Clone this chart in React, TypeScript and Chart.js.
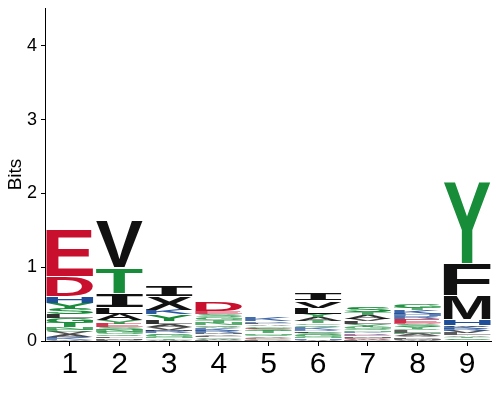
import { useEffect, useRef } from "react";
import { Chart, registerables } from "chart.js";

Chart.register(...registerables);

// Positions along the sequence (x categories)
const positions = ["1", "2", "3", "4", "5", "6", "7", "8", "9"];
// Y axis tick values (bits)
const yTickValues = [0, 1, 2, 3, 4];
const yMax = 4.515;

// Letters per position, listed bottom -> top, with their heights in bits
const pos1Letters = ["W", "K", "R", "A", "V", "C", "N", "T", "G", "L", "S", "Y", "H", "D", "E"];
const pos1Bits = [0.015, 0.025, 0.015, 0.035, 0.03, 0.03, 0.035, 0.06, 0.065, 0.05, 0.08, 0.08, 0.09, 0.27, 0.63];

const pos2Letters = ["P", "M", "F", "Q", "G", "N", "S", "E", "Y", "A", "L", "I", "T", "V"];
const pos2Bits = [0.02, 0.02, 0.02, 0.03, 0.035, 0.03, 0.035, 0.045, 0.045, 0.08, 0.1, 0.19, 0.35, 0.63];

const pos3Letters = ["W", "T", "N", "G", "S", "R", "M", "V", "A", "L", "Y", "K", "X", "I"];
const pos3Bits = [0.015, 0.02, 0.02, 0.03, 0.02, 0.03, 0.02, 0.03, 0.04, 0.05, 0.09, 0.06, 0.185, 0.16];

const pos4Letters = ["P", "W", "C", "L", "V", "M", "R", "K", "A", "Q", "N", "T", "G", "S", "E", "D"];
const pos4Bits = [0.015, 0.015, 0.02, 0.02, 0.02, 0.02, 0.03, 0.03, 0.02, 0.03, 0.03, 0.03, 0.04, 0.04, 0.04, 0.13];

const pos5Letters = ["P", "C", "D", "V", "Q", "N", "T", "S", "E", "G", "A", "L", "R", "K"];
const pos5Bits = [0.015, 0.015, 0.015, 0.02, 0.02, 0.02, 0.03, 0.03, 0.015, 0.025, 0.02, 0.02, 0.02, 0.045];

const pos6Letters = ["W", "H", "N", "G", "S", "F", "R", "K", "Q", "C", "T", "A", "Y", "L", "V", "I"];
const pos6Bits = [0.015, 0.02, 0.02, 0.03, 0.03, 0.02, 0.02, 0.03, 0.03, 0.025, 0.03, 0.05, 0.05, 0.08, 0.1, 0.1];

const pos7Letters = ["P", "W", "D", "M", "E", "R", "K", "N", "Q", "G", "Y", "L", "V", "A", "T", "S"];
const pos7Bits = [0.015, 0.015, 0.015, 0.02, 0.02, 0.02, 0.02, 0.02, 0.02, 0.03, 0.035, 0.04, 0.03, 0.05, 0.04, 0.07];

const pos8Letters = ["W", "M", "P", "V", "A", "N", "L", "Q", "Y", "S", "D", "E", "R", "H", "K", "T", "G"];
const pos8Bits = [0.015, 0.015, 0.02, 0.02, 0.025, 0.02, 0.025, 0.02, 0.03, 0.04, 0.02, 0.05, 0.04, 0.03, 0.05, 0.03, 0.06];

const pos9Letters = ["S", "G", "T", "A", "L", "V", "R", "K", "W", "H", "M", "F", "Y"];
const pos9Bits = [0.02, 0.02, 0.02, 0.02, 0.025, 0.03, 0.025, 0.035, 0.02, 0.085, 0.33, 0.43, 1.11];

// Residue colour groups
const acidic = "DE";
const basic = "HKR";
const polar = "STYGCNQ";
const RED = "#c8102e";
const BLUE = "#1f4e99";
const GREEN = "#178c39";
const BLACK = "#111111";

function colorOf(letter: string): string {
  if (acidic.includes(letter)) return RED;
  if (basic.includes(letter)) return BLUE;
  if (polar.includes(letter)) return GREEN;
  return BLACK;
}

const FONT_FAMILY = "'Liberation Sans', Arial, Helvetica, sans-serif";
const SERIF_I_FONT = "'DejaVu Sans Mono', 'Liberation Mono', monospace";

export default function App() {
  const ref = useRef<HTMLCanvasElement>(null);

  useEffect(() => {
    const cols = [
      { letters: pos1Letters, bits: pos1Bits },
      { letters: pos2Letters, bits: pos2Bits },
      { letters: pos3Letters, bits: pos3Bits },
      { letters: pos4Letters, bits: pos4Bits },
      { letters: pos5Letters, bits: pos5Bits },
      { letters: pos6Letters, bits: pos6Bits },
      { letters: pos7Letters, bits: pos7Bits },
      { letters: pos8Letters, bits: pos8Bits },
      { letters: pos9Letters, bits: pos9Bits },
    ];
    const maxLayers = Math.max(...cols.map((c) => c.letters.length));
    const datasets = Array.from({ length: maxLayers }, (_, k) => ({
      label: "layer " + k,
      data: cols.map((c) => (c.bits[k] ?? 0)),
      backgroundColor: "rgba(0,0,0,0)",
      borderWidth: 0,
      barPercentage: 0.94,
      categoryPercentage: 1,
    }));

    const logoPlugin = {
      id: "logoLetters",
      afterDatasetsDraw(chart: any) {
        const ctx: CanvasRenderingContext2D = chart.ctx;
        ctx.save();
        ctx.textAlign = "left";
        ctx.textBaseline = "alphabetic";
        for (let k = 0; k < maxLayers; k++) {
          const meta = chart.getDatasetMeta(k);
          meta.data.forEach((bar: any, i: number) => {
            const letter = cols[i].letters[k];
            if (!letter) return;
            const { x, y, base, width } = bar.getProps(["x", "y", "base", "width"], true);
            let top = Math.min(y, base);
            let h = Math.abs(base - y);
            if (h <= 0) return;
            if (h > 6) {
              top += 1;
              h -= 1;
            }
            ctx.font = letter === "I" ? `bold 200px ${SERIF_I_FONT}` : `bold 200px ${FONT_FAMILY}`;
            const m = ctx.measureText(letter);
            const gw = m.actualBoundingBoxLeft + m.actualBoundingBoxRight;
            const gh = m.actualBoundingBoxAscent + m.actualBoundingBoxDescent;
            ctx.save();
            ctx.globalAlpha = h < 5 ? 0.5 + 0.1 * h : 1;
            ctx.translate(x - width / 2, top);
            ctx.scale(width / gw, h / gh);
            ctx.fillStyle = colorOf(letter);
            ctx.fillText(letter, m.actualBoundingBoxLeft, m.actualBoundingBoxAscent);
            ctx.restore();
          });
        }
        ctx.restore();
      },
    };

    const chart = new Chart(ref.current!, {
      type: "bar",
      data: { labels: positions, datasets },
      options: {
        animation: false,
        responsive: true,
        maintainAspectRatio: false,
        layout: { padding: 0 },
        font: { family: FONT_FAMILY },
        plugins: { legend: { display: false }, tooltip: { enabled: false } },
        scales: {
          x: {
            stacked: true,
            offset: true,
            grid: {
              display: true,
              drawOnChartArea: false,
              drawTicks: true,
              tickLength: 5,
              offset: false,
              color: "#000",
            },
            border: { display: true, color: "#000", width: 1 },
            ticks: {
              color: "#000",
              padding: 1,
              font: { family: FONT_FAMILY, size: 30 },
              maxRotation: 0,
            },
            afterFit: (scale: any) => {
              scale.height = 51;
              scale.paddingLeft = 0;
              scale.paddingRight = 0;
            },
          },
          y: {
            stacked: true,
            min: 0,
            max: yMax,
            grid: {
              display: true,
              drawOnChartArea: false,
              drawTicks: true,
              tickLength: 4,
              color: "#000",
            },
            border: { display: true, color: "#000", width: 1 },
            ticks: {
              color: "#000",
              padding: 4,
              font: { family: FONT_FAMILY, size: 18 },
            },
            afterBuildTicks: (scale: any) => {
              scale.ticks = yTickValues.map((v) => ({ value: v }));
            },
            title: {
              display: true,
              text: "Bits",
              color: "#000",
              padding: 0,
              font: { family: FONT_FAMILY, size: 19, lineHeight: 0.8 },
            },
            afterFit: (scale: any) => {
              scale.width = 37;
              scale.paddingTop = 0;
              scale.paddingBottom = 0;
            },
          },
        },
      } as any,
      plugins: [logoPlugin],
    });
    return () => chart.destroy();
  }, []);

  return (
    <div style={{ width: 484, height: 384, position: "relative" }}>
      <canvas ref={ref} />
    </div>
  );
}
